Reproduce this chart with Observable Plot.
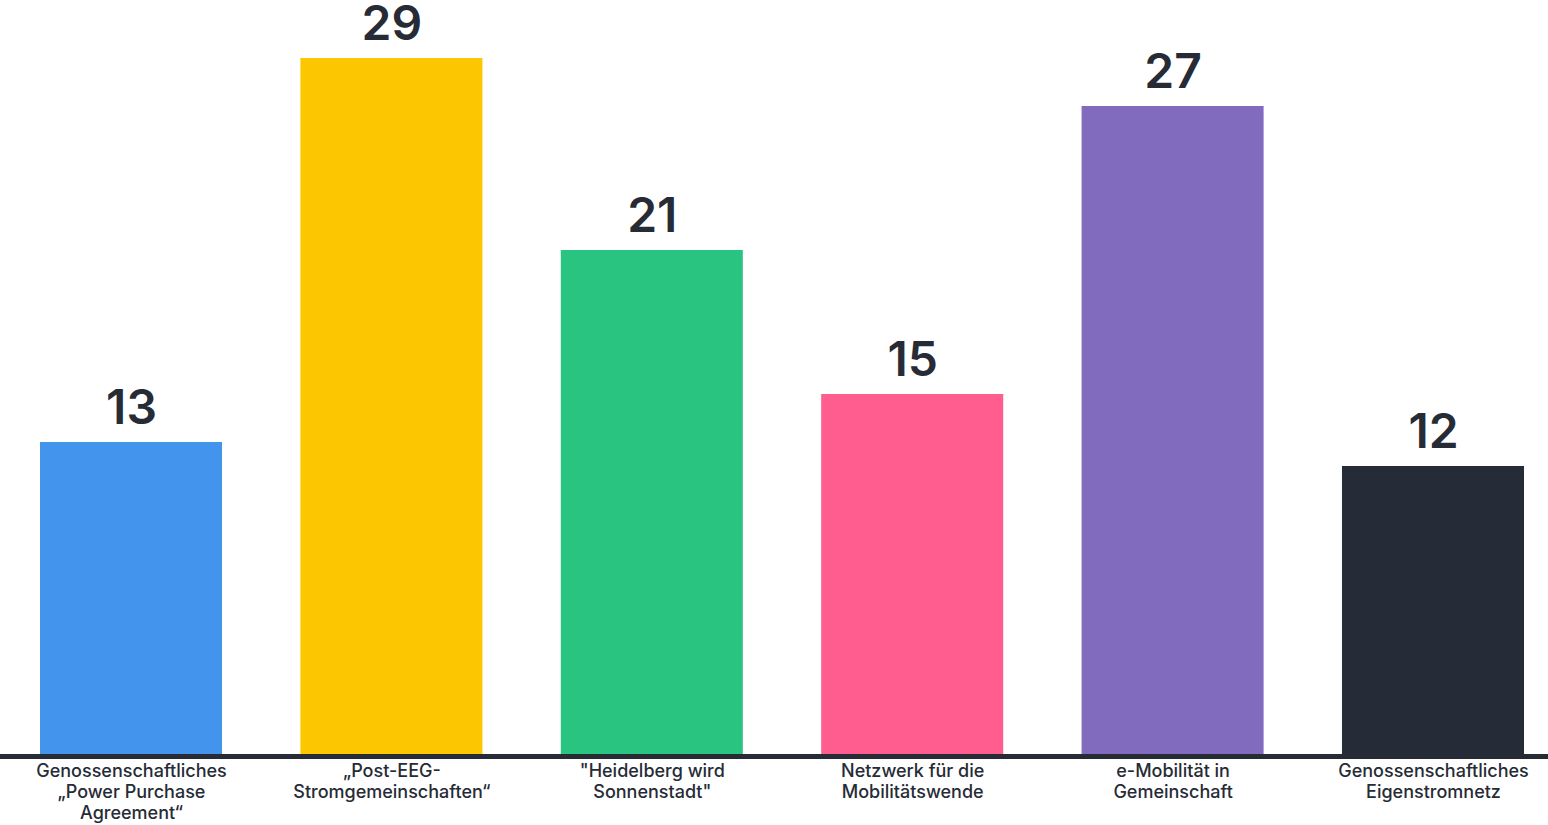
<!DOCTYPE html>
<html>
<head>
<meta charset="utf-8">
<script src="https://cdn.jsdelivr.net/npm/d3@7"></script>
<script src="https://cdn.jsdelivr.net/npm/@observablehq/plot@0.6"></script>
<style>
  html, body { margin: 0; padding: 0; background: #fff; }
  #chart svg { display: block; }
</style>
</head>
<body>
<div id="chart"></div>
<script>
const categories = [
  "Genossenschaftliches\n„Power Purchase\nAgreement“",
  "„Post-EEG-\nStromgemeinschaften“",
  "\"Heidelberg wird\nSonnenstadt\"",
  "Netzwerk für die\nMobilitätswende",
  "e-Mobilität in\nGemeinschaft",
  "Genossenschaftliches\nEigenstromnetz"
];
const values = [13, 29, 21, 15, 27, 12];
const colors = ["#4394EC", "#FCC600", "#2AC481", "#FF5C8F", "#806BBF", "#252B37"];

const data = categories.map((c, i) => ({ category: c, value: values[i], color: colors[i] }));

const chart = Plot.plot({
  width: 1548,
  height: 825,
  marginLeft: 40,
  marginRight: 24,
  marginTop: 0,
  marginBottom: 71,
  style: { fontFamily: "Inter, sans-serif", background: "#fff", overflow: "visible" },
  x: { domain: categories, paddingInner: 0.301, paddingOuter: 0, round: false, axis: null },
  y: { domain: [0, 754 / 24], axis: null },
  marks: [
    Plot.barY(data, { x: "category", y: "value", fill: "color" }),
    Plot.ruleY([0], { stroke: "#262B36", strokeWidth: 5, dy: 2, insetLeft: -40, insetRight: -24 }),
    Plot.text(data, {
      x: "category", y: "value", text: d => String(d.value),
      lineAnchor: "bottom", dy: -19,
      fontSize: 48, fontWeight: 600, fill: "#262B36"
    }),
    Plot.text(data, {
      x: "category", y: () => 0, text: "category",
      lineAnchor: "top", dy: 8, lineHeight: 1.15,
      fontSize: 18, fontWeight: 500, fill: "#262B36"
    })
  ]
});
document.getElementById("chart").appendChild(chart);
</script>
</body>
</html>
